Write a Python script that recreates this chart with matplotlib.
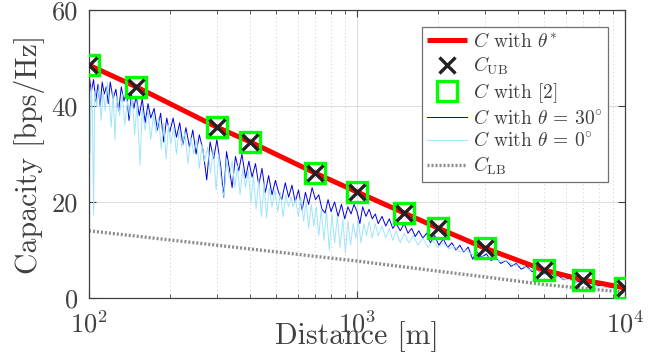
import matplotlib
matplotlib.use("Agg")
import matplotlib.pyplot as plt
import numpy as np

plt.rcParams['font.family'] = ['cmr10', 'DejaVu Serif']
plt.rcParams['mathtext.fontset'] = 'cm'
plt.rcParams['axes.formatter.use_mathtext'] = True

# ---- data ----
d_mark = [100, 150, 300, 400, 700, 1000, 1500, 2000, 3000, 5000, 7000, 10000]
c_opt = [48.5, 44.0, 35.6, 32.5, 26.0, 22.1, 17.7, 14.6, 10.4, 5.8, 3.75, 2.1]
c_ub = [48.5, 44.0, 35.6, 32.5, 26.0, 22.1, 17.7, 14.6, 10.4, 5.8, 3.75, 2.1]
c_ref2 = [48.5, 44.0, 35.6, 32.5, 26.0, 22.1, 17.7, 14.6, 10.4, 5.8, 3.75, 2.1]

d_lb = [100, 200, 500, 1000, 2000, 3000, 5000, 7000, 10000]
c_lb = [14.0, 12.1, 9.6, 7.7, 5.6, 4.4, 2.8, 2.0, 1.2]

d_30 = [100, 102, 104, 106, 108, 110, 112, 114, 116, 118, 120, 123, 126, 129, 132,
        135, 138, 141, 144, 147, 150, 154, 158, 162, 166, 170, 175, 180, 185, 190,
        195, 200, 206, 212, 218, 224, 230, 237, 244, 251, 258, 266, 275, 283, 292,
        300, 310, 318, 326, 334, 342, 352, 362, 372, 384, 395, 406, 418, 430, 442,
        455, 468, 482, 496, 510, 524, 540, 556, 572, 588, 605, 624, 642, 660, 680,
        700, 720, 740, 760, 780, 800, 825, 850, 875, 900, 925, 950, 975, 1000, 1025,
        1050, 1080, 1110, 1140, 1170, 1200, 1240, 1280, 1320, 1360, 1400, 1450, 1500,
        1550, 1600, 1650, 1700, 1760, 1820, 1880, 1950, 2020, 2100, 2180, 2260, 2340,
        2420, 2500, 2600, 2700, 2800, 2920, 3040, 3160, 3300, 3440, 3600, 3760, 3930,
        4100, 4300, 4500, 4700, 4920, 5150, 5400, 5650, 5900, 6200, 6500, 6800, 7100,
        7500, 7900, 8300, 8800, 9300, 10000]
c_30 = [46.5, 43.0, 45.5, 41.0, 44.5, 40.0, 45.0, 42.5, 44.0, 40.5, 45.0, 41.5, 43.5, 39.0, 44.0,
        41.0, 43.0, 37.0, 42.5, 39.5, 42.0, 38.0, 41.5, 36.5, 40.5, 37.5, 39.5, 35.0, 38.5, 32.5,
        37.5, 34.5, 37.5, 33.5, 36.5, 32.0, 35.5, 31.5, 35.0, 30.0, 34.0, 31.0, 24.6, 32.5, 29.0,
        33.0, 27.5, 21.0, 30.5, 27.0, 23.0, 29.5, 26.5, 30.0, 25.0, 28.5, 25.2, 28.0, 23.5, 27.0,
        22.0, 25.5, 21.5, 24.5, 22.0, 20.5, 24.0, 21.0, 23.5, 20.0, 22.5, 18.3, 22.0, 19.5, 23.0,
        20.5, 21.5, 18.5, 17.7, 20.5, 18.0, 20.0, 17.0, 19.5, 16.5, 19.0, 17.5, 19.5, 18.0, 15.5,
        19.0, 17.0, 18.5, 16.5, 17.5, 15.5, 17.0, 15.0, 16.5, 14.5, 15.5, 14.0, 15.5,
        13.5, 14.5, 12.8, 14.0, 12.5, 13.5, 11.5, 13.0, 11.0, 12.3, 10.5, 11.5, 10.0,
        11.0, 9.6, 10.6, 8.1, 9.6, 8.5, 9.2, 7.8, 8.4, 7.2, 7.8, 6.6, 7.2,
        6.0, 6.6, 5.5, 5.9, 5.0, 5.3, 4.4, 4.7, 3.8, 4.1, 3.3, 3.5, 2.9,
        3.1, 2.6, 2.7, 2.2, 2.3, 1.9]

d_0 = [100, 101, 102, 103, 104, 105, 107, 109, 111, 113, 115, 117, 119, 121, 123,
       125, 127, 130, 133, 136, 139, 142, 145, 148, 151, 155, 158, 162, 166, 170,
       174, 178, 182, 186, 190, 194, 198, 202, 207, 212, 217, 222, 228, 234, 240,
       246, 252, 258, 264, 270, 277, 284, 291, 298, 305, 312, 319, 326, 334, 342,
       350, 358, 366, 375, 384, 393, 402, 411, 420, 430, 440, 450, 460, 470, 482,
       494, 506, 518, 530, 542, 555, 568, 577, 590, 604, 618, 632, 646, 660, 675,
       690, 705, 720, 736, 752, 770, 788, 806, 825, 845, 865, 885, 905, 925, 946,
       968, 990, 1012, 1035, 1060, 1085, 1110, 1140, 1170, 1200, 1240, 1280, 1320, 1360,
       1400, 1450, 1500, 1560, 1620, 1690, 1760, 1840, 1920, 2000, 2100, 2200, 2300,
       2420, 2550, 2700, 2850, 3000, 3200, 3400, 3600, 3850, 4100, 4400, 4700, 5000,
       5400, 5800, 6300, 6800, 7400, 8000, 8700, 9300, 10000]
c_0 = [45.0, 30.0, 44.0, 38.0, 17.3, 43.0, 40.0, 44.0, 37.0, 43.0, 39.0, 45.0, 41.0, 35.6, 43.0,
       33.0, 42.0, 38.0, 42.5, 36.0, 41.0, 38.0, 42.0, 34.0, 40.5, 27.7, 39.5, 35.0, 39.0, 33.0,
       38.0, 34.5, 37.5, 31.0, 36.5, 29.0, 36.0, 32.0, 35.5, 30.0, 35.0, 31.5, 34.5, 28.0, 33.5,
       30.0, 33.0, 27.0, 32.0, 28.5, 31.5, 26.0, 31.0, 22.5, 30.0, 24.0, 21.0, 29.0, 25.0, 28.5,
       23.0, 27.5, 21.5, 27.0, 23.0, 26.5, 20.0, 25.5, 18.5, 24.5, 17.0, 24.0, 16.7, 23.0, 19.0,
       22.5, 18.0, 22.0, 16.9, 21.5, 19.0, 21.0, 19.0, 20.5, 17.0, 21.0, 16.0, 20.0, 14.5, 19.5,
       15.0, 19.0, 13.0, 18.5, 12.0, 18.0, 10.0, 17.5, 11.5, 17.0, 10.5, 16.5, 9.4, 16.0, 11.0,
       15.5, 12.5, 16.0, 11.5, 15.5, 13.0, 16.0, 12.5, 15.5, 13.0, 15.0, 12.5, 14.5, 12.0,
       14.0, 11.5, 13.5, 11.5, 13.0, 11.0, 12.5, 10.5, 12.0, 10.5, 11.5, 10.2, 10.8,
       9.6, 10.0, 9.0, 9.3, 8.4, 8.6, 7.6, 7.8, 6.8, 6.9, 5.9, 5.8, 5.0,
       4.7, 4.0, 3.7, 3.1, 2.8, 2.4, 2.1, 1.9, 1.7]

x_ticks = [100, 1000, 10000]
x_ticklabels = [r'$10^{2}$', r'$10^{3}$', r'$10^{4}$']
y_ticks = [0, 20, 40, 60]
y_ticklabels = ['0', '20', '40', '60']

txt = '#404040'

fig = plt.figure(figsize=(6.65, 3.53), dpi=100)
ax = fig.add_axes([89/665, 55/353, 536/665, 288/353])
ax.set_xscale('log')

l30, = ax.plot(d_30, c_30, color='#0000e6', lw=0.7, zorder=2)
l0, = ax.plot(d_0, c_0, color='#a0e4fa', lw=0.7, zorder=2.1)
lopt, = ax.plot(d_mark, c_opt, color='#ff0000', lw=3.6, zorder=3, solid_capstyle='butt')
lub, = ax.plot(d_mark, c_ub, ls='none', marker='x', ms=11, mew=2.4, color='#222222', zorder=5)
lref, = ax.plot(d_mark, c_ref2, ls='none', marker='s', ms=14.5, mew=2.4, mfc='none',
                mec='#00ff00', zorder=4)
llb, = ax.plot(d_lb, c_lb, color='#8c8c8c', lw=2.4, ls=(0, (0.6, 0.6)), zorder=2.5)

ax.set_xlim(100, 10000)
ax.set_ylim(0, 60)
ax.set_xticks(x_ticks)
ax.set_xticklabels(x_ticklabels)
ax.set_yticks(y_ticks)
ax.set_yticklabels(y_ticklabels)

ax.grid(True, which='major', color='#dddddd', lw=0.8, ls='-')
ax.grid(True, which='minor', axis='x', color='#cccccc', lw=0.7, ls=(0, (1, 3)))
ax.set_axisbelow(True)

ax.tick_params(which='both', direction='in', top=True, right=True, colors=txt,
               labelsize=19, labelcolor=txt)
ax.tick_params(which='major', length=5, width=0.8)
ax.tick_params(axis='x', which='major', pad=9)
ax.tick_params(axis='y', which='major', pad=8)
ax.tick_params(which='minor', length=3, width=0.6)
for s in ax.spines.values():
    s.set_color(txt)
    s.set_linewidth(0.9)

ax.set_xlabel('Distance [m]', fontsize=21.5, color=txt)
ax.xaxis.label.set_va('baseline')
ax.xaxis.set_label_coords(0.5, (298 - 344) / 288)
ax.set_ylabel('Capacity [bps/Hz]', fontsize=21.5, color=txt)
ax.yaxis.set_label_coords(-(89 - 30) / 536, 0.5)
ax.yaxis.label.set_va('center')

handles = [lopt, lub, lref, l30, l0, llb]
labels = [r'$C$ with $\theta^{*}$', r'$C_{\mathrm{UB}}$', r'$C$ with [2]',
          r'$C$ with $\theta\,=\,30^{\circ}$', r'$C$ with $\theta\,=\,0^{\circ}$',
          r'$C_{\mathrm{LB}}$']
leg = ax.legend(handles, labels, loc='upper right', bbox_to_anchor=(0.968, 0.941),
                borderaxespad=0, fontsize=14, fancybox=False, framealpha=1,
                edgecolor='#707070', handlelength=2.1, handletextpad=0.3,
                labelspacing=0.2, borderpad=0.25)
leg.get_frame().set_linewidth(0.9)
for t in leg.get_texts():
    t.set_color(txt)

fig.savefig('out.png', dpi=100)
